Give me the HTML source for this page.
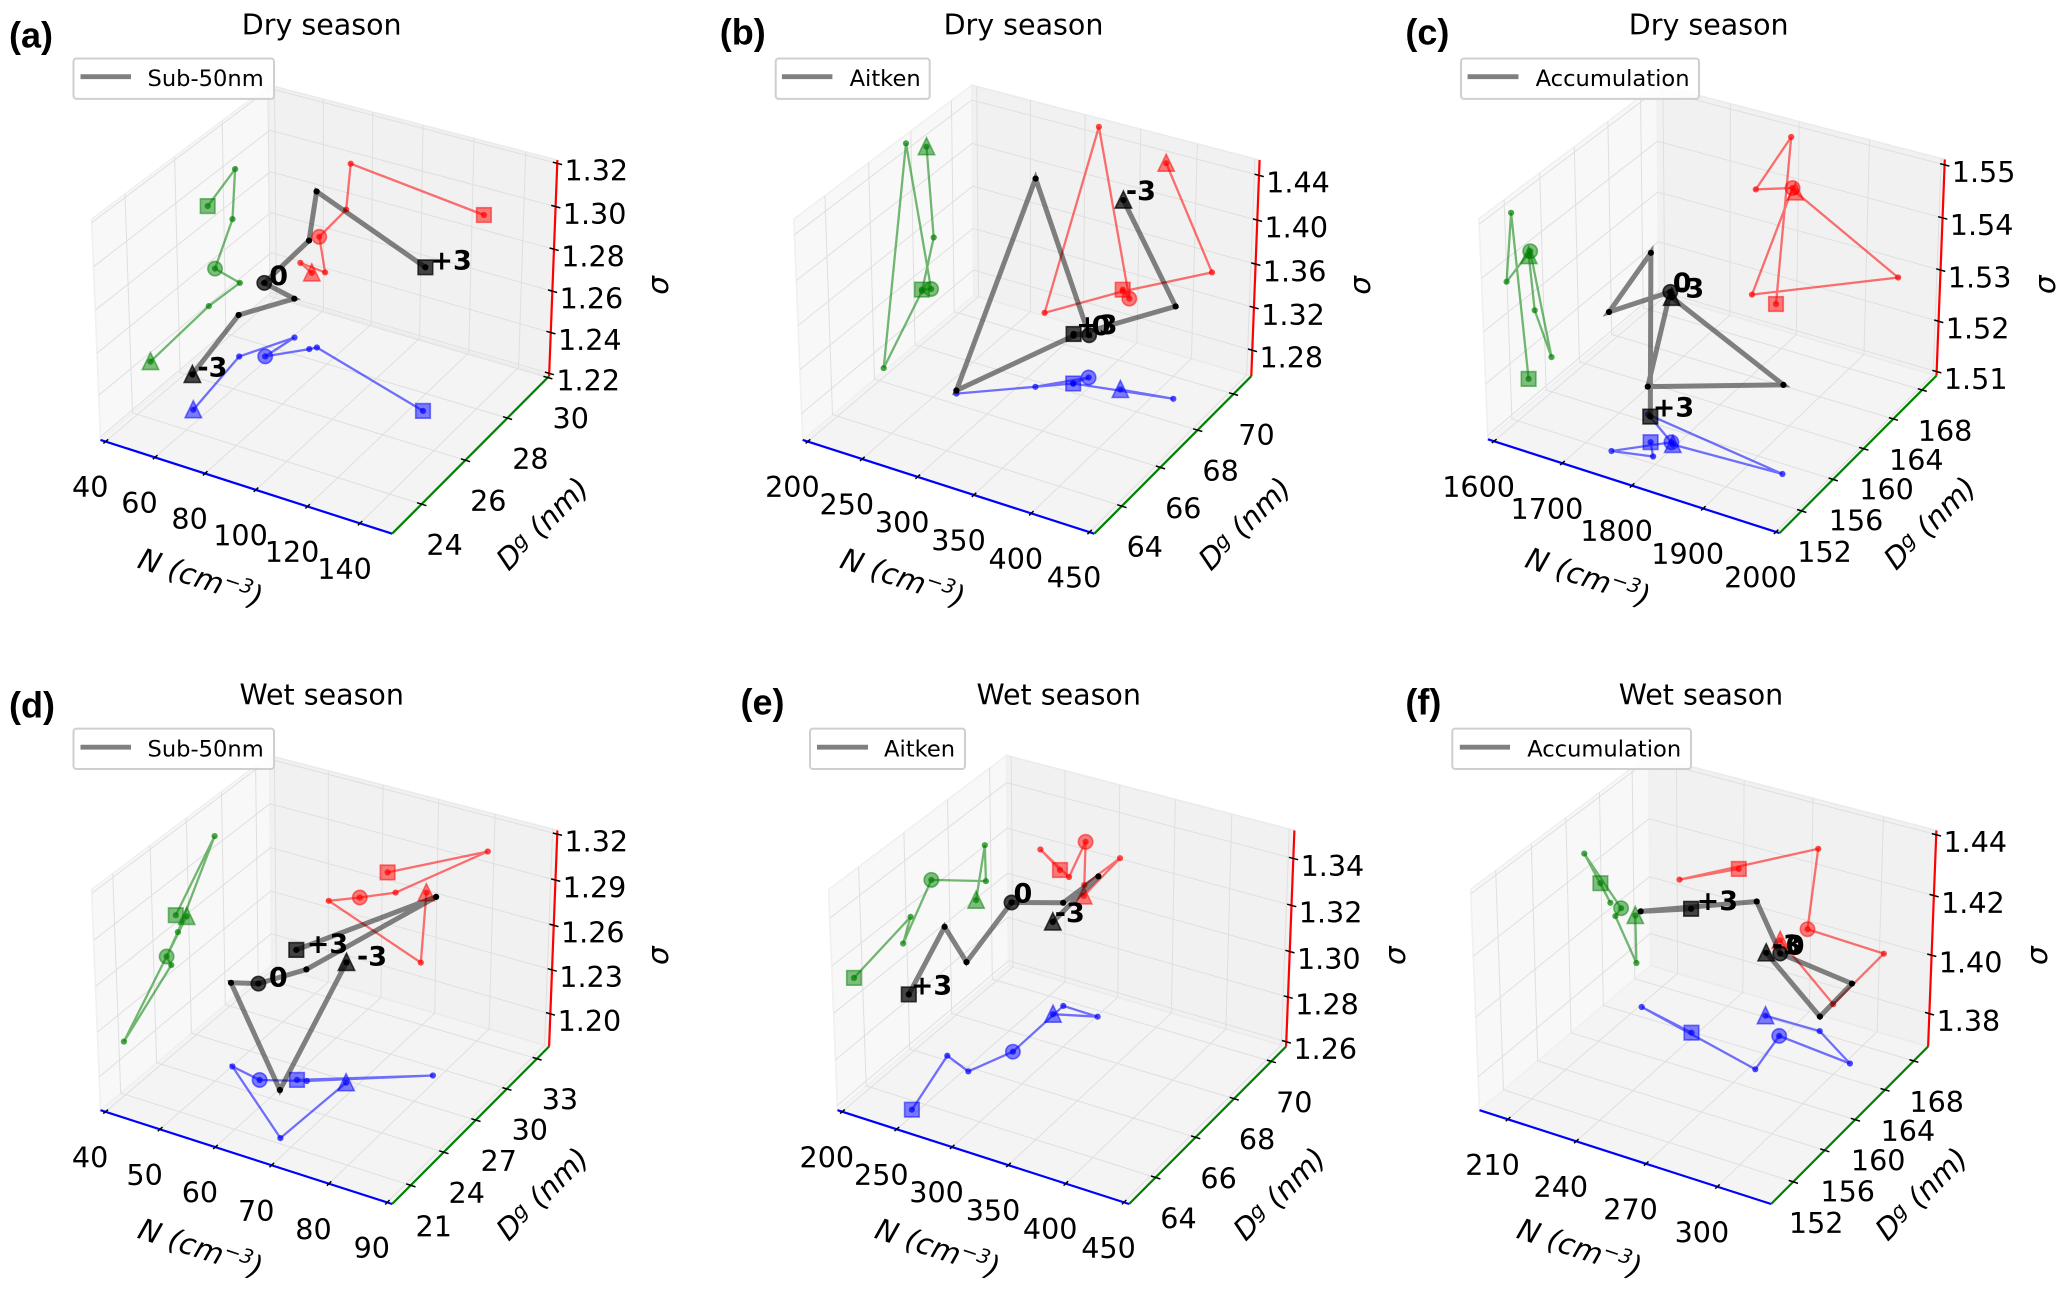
<!DOCTYPE html>
<html lang="en">
<head>
<meta charset="utf-8">
<title>Aerosol mode parameters, dry and wet season</title>
<style>
html,body{margin:0;padding:0;background:#fff;}
svg{display:block;filter:blur(0.35px);}
text{font-family:"DejaVu Sans","Liberation Sans",sans-serif;fill:#000;}
.letter{font-family:"Liberation Sans",sans-serif;font-weight:bold;font-size:36px;}
.title{font-size:28.5px;text-anchor:middle;}
.legend-text{font-size:22.6px;}
.axis-label{font-size:29.5px;font-style:italic;text-anchor:middle;}
.tick-label{font-size:28.6px;text-anchor:middle;}
.note{font-size:27px;font-weight:bold;}
</style>
</head>
<body>
<svg id="figure" xmlns="http://www.w3.org/2000/svg" width="2067" height="1291" viewBox="0 0 2067 1291">
<rect x="0" y="0" width="2067" height="1291" fill="#fff"/>

<g>
  <g id="plot-a"></g>
  <text class="letter" x="9" y="47.6">(a)</text>
  <text class="title" x="321.7" y="34.3">Dry season</text>
  <g>
    <rect x="73.5" y="58.5" width="200.5" height="40.4" rx="3" fill="#fff" fill-opacity="0.85" stroke="#cfcfcf" stroke-width="2"/>
    <line x1="80.5" y1="76.7" x2="131" y2="76.7" stroke="#808080" stroke-width="4.8"/>
    <text class="legend-text" x="147.5" y="86">Sub-50nm</text>
  </g>
  <text class="axis-label" transform="translate(200.3,578.9) rotate(18.3)" y="9">N (cm<tspan font-size="20" dy="-10">−3</tspan><tspan dy="10">)</tspan></text>
  <text class="axis-label" transform="translate(543.3,524.4) rotate(-45)" y="9">D<tspan font-size="21" dy="-7">g</tspan><tspan dy="7"> (nm)</tspan></text>
  <text class="axis-label" transform="translate(658.8,285.4) rotate(-90)" y="9">σ</text>
</g>

<g>
  <g id="plot-b"></g>
  <text class="letter" x="719.8" y="44.4">(b)</text>
  <text class="title" x="1023.5" y="34.3">Dry season</text>
  <g>
    <rect x="775.7" y="58.5" width="154" height="40.4" rx="3" fill="#fff" fill-opacity="0.85" stroke="#cfcfcf" stroke-width="2"/>
    <line x1="781.9" y1="76.7" x2="832.4" y2="76.7" stroke="#808080" stroke-width="4.8"/>
    <text class="legend-text" x="849.6" y="86">Aitken</text>
  </g>
  <text class="axis-label" transform="translate(902.5,578.9) rotate(18.3)" y="9">N (cm<tspan font-size="20" dy="-10">−3</tspan><tspan dy="10">)</tspan></text>
  <text class="axis-label" transform="translate(1245.5,524.4) rotate(-45)" y="9">D<tspan font-size="21" dy="-7">g</tspan><tspan dy="7"> (nm)</tspan></text>
  <text class="axis-label" transform="translate(1361,285.4) rotate(-90)" y="9">σ</text>
</g>

<g>
  <g id="plot-c"></g>
  <text class="letter" x="1405.4" y="44.4">(c)</text>
  <text class="title" x="1708.7" y="34.3">Dry season</text>
  <g>
    <rect x="1461" y="58.5" width="238" height="40.4" rx="3" fill="#fff" fill-opacity="0.85" stroke="#cfcfcf" stroke-width="2"/>
    <line x1="1467.6" y1="76.7" x2="1518.5" y2="76.7" stroke="#808080" stroke-width="4.8"/>
    <text class="legend-text" x="1535.6" y="86">Accumulation</text>
  </g>
  <text class="axis-label" transform="translate(1587.7,578.3) rotate(18.3)" y="9">N (cm<tspan font-size="20" dy="-10">−3</tspan><tspan dy="10">)</tspan></text>
  <text class="axis-label" transform="translate(1930.7,523.8) rotate(-45)" y="9">D<tspan font-size="21" dy="-7">g</tspan><tspan dy="7"> (nm)</tspan></text>
  <text class="axis-label" transform="translate(2046.2,284.8) rotate(-90)" y="9">σ</text>
</g>

<g>
  <g id="plot-d"></g>
  <text class="letter" x="9" y="717.7">(d)</text>
  <text class="title" x="321.7" y="704.4">Wet season</text>
  <g>
    <rect x="73.5" y="728.6" width="200.5" height="40.4" rx="3" fill="#fff" fill-opacity="0.85" stroke="#cfcfcf" stroke-width="2"/>
    <line x1="80.5" y1="747.2" x2="131" y2="747.2" stroke="#808080" stroke-width="4.8"/>
    <text class="legend-text" x="147.5" y="756.5">Sub-50nm</text>
  </g>
  <text class="axis-label" transform="translate(200.3,1249.2) rotate(18.3)" y="9">N (cm<tspan font-size="20" dy="-10">−3</tspan><tspan dy="10">)</tspan></text>
  <text class="axis-label" transform="translate(543.3,1194.7) rotate(-45)" y="9">D<tspan font-size="21" dy="-7">g</tspan><tspan dy="7"> (nm)</tspan></text>
  <text class="axis-label" transform="translate(658.8,955.7) rotate(-90)" y="9">σ</text>
</g>

<g>
  <g id="plot-e"></g>
  <text class="letter" x="740.5" y="714.5">(e)</text>
  <text class="title" x="1058.7" y="704.4">Wet season</text>
  <g>
    <rect x="810" y="728.6" width="155" height="40.4" rx="3" fill="#fff" fill-opacity="0.85" stroke="#cfcfcf" stroke-width="2"/>
    <line x1="817" y1="747.2" x2="868" y2="747.2" stroke="#808080" stroke-width="4.8"/>
    <text class="legend-text" x="884" y="756.5">Aitken</text>
  </g>
  <text class="axis-label" transform="translate(937.3,1249.2) rotate(18.3)" y="9">N (cm<tspan font-size="20" dy="-10">−3</tspan><tspan dy="10">)</tspan></text>
  <text class="axis-label" transform="translate(1280.3,1194.7) rotate(-45)" y="9">D<tspan font-size="21" dy="-7">g</tspan><tspan dy="7"> (nm)</tspan></text>
  <text class="axis-label" transform="translate(1395.8,955.7) rotate(-90)" y="9">σ</text>
</g>

<g>
  <g id="plot-f"></g>
  <text class="letter" x="1405.4" y="714.5">(f)</text>
  <text class="title" x="1701" y="704.4">Wet season</text>
  <g>
    <rect x="1452.3" y="728.6" width="238.7" height="40.4" rx="3" fill="#fff" fill-opacity="0.85" stroke="#cfcfcf" stroke-width="2"/>
    <line x1="1459.8" y1="747.2" x2="1510" y2="747.2" stroke="#808080" stroke-width="4.8"/>
    <text class="legend-text" x="1527.2" y="756.5">Accumulation</text>
  </g>
  <text class="axis-label" transform="translate(1579.3,1249.2) rotate(18.3)" y="9">N (cm<tspan font-size="20" dy="-10">−3</tspan><tspan dy="10">)</tspan></text>
  <text class="axis-label" transform="translate(1922.3,1194.7) rotate(-45)" y="9">D<tspan font-size="21" dy="-7">g</tspan><tspan dy="7"> (nm)</tspan></text>
  <text class="axis-label" transform="translate(2037.8,955.7) rotate(-90)" y="9">σ</text>
</g>
</svg>

<script>
// Panel (a) Dry season, Sub-50nm
const aN = [55.1, 50.3, 60.7, 58.3, 69.4, 71.2, 124.6];
const aDg = [24.79, 27.28, 28.65, 27.58, 28.37, 28.52, 27.32];
const aSigma = [1.2357, 1.2391, 1.2379, 1.2547, 1.2717, 1.2944, 1.2871];
const aTicksN = [40, 60, 80, 100, 120, 140];
const aTicksDg = [24, 26, 28, 30];
const aTicksSigma = [1.22, 1.24, 1.26, 1.28, 1.30, 1.32];

// Panel (b) Dry season, Aitken
const bN = [373.1, 416.1, 336.1, 263.4, 312.5, 342.3, 336.1];
const bDg = [68.74, 69.02, 68.39, 66.45, 67.76, 68.85, 68.39];
const bSigma = [1.4291, 1.3414, 1.3004, 1.2585, 1.4459, 1.2954, 1.3020];
const bTicksN = [200, 250, 300, 350, 400, 450];
const bTicksDg = [64, 66, 68, 70];
const bTicksSigma = [1.28, 1.32, 1.36, 1.40, 1.44];

// Panel (c) Dry season, Accumulation
const cN = [1795.8, 1945.7, 1733.3, 1791.7, 1737.9, 1788.8, 1769.3];
const cDg = [154.5, 154.97, 156.74, 154.68, 151.96, 152.71, 154.04];
const cSigma = [1.5374, 1.5263, 1.5147, 1.5380, 1.5358, 1.5477, 1.5142];
const cTicksN = [1600, 1700, 1800, 1900, 2000];
const cTicksDg = [152, 156, 160, 164, 168];
const cTicksSigma = [1.51, 1.52, 1.53, 1.54, 1.55];

// Panel (d) Wet season, Sub-50nm
const dN = [68.1, 67.3, 50.1, 55.9, 62.5, 78.9, 61.0];
const dDg = [26.84, 21.4, 25.45, 25.08, 26.07, 29.34, 25.93];
const dSigma = [1.2585, 1.2097, 1.2345, 1.2427, 1.2528, 1.2969, 1.2650];
const dTicksN = [40, 50, 60, 70, 80, 90];
const dTicksDg = [21, 24, 27, 30, 33];
const dTicksSigma = [1.20, 1.23, 1.26, 1.29, 1.32];

// Panel (e) Wet season, Aitken
const eN = [267.5, 300.9, 268.1, 269.1, 253.8, 226.9, 245.3];
const eDg = [69.26, 69.72, 69.75, 67.18, 65.83, 66.2, 63.64];
const eSigma = [1.2993, 1.3203, 1.3042, 1.3234, 1.3059, 1.3146, 1.3079];
const eTicksN = [200, 250, 300, 350, 400, 450];
const eTicksDg = [64, 66, 68, 70];
const eTicksSigma = [1.26, 1.28, 1.30, 1.32, 1.34];

// Panel (f) Wet season, Accumulation
const fN = [256.6, 280.5, 301.9, 268.6, 272.6, 211.1, 237.9];
const fDg = [168.17, 168.23, 165.68, 166.4, 162.06, 165.09, 163.91];
const fSigma = [1.3906, 1.3737, 1.396, 1.3971, 1.4252, 1.4019, 1.4112];
const fTicksN = [210, 240, 270, 300];
const fTicksDg = [152, 156, 160, 164, 168];
const fTicksSigma = [1.38, 1.40, 1.42, 1.44];

// Run stage (standard deviations) marked on each path
const noteLabels = ['-3', '0', '+3'];

const panels = [
  {id: 'a', N: aN, Dg: aDg, S: aSigma, tN: aTicksN, tD: aTicksDg, tS: aTicksSigma,
   limN: [37.9, 152.1], limD: [22.7, 30.07], limS: [1.2186, 1.3215],
   cx: 328.3, cy: 300.4, mid: 3, nx: 5, ny: 2},
  {id: 'b', N: bN, Dg: bDg, S: bSigma, tN: bTicksN, tD: bTicksDg, tS: bTicksSigma,
   limN: [195.3, 454.1], limD: [62.62, 71.02], limS: [1.2555, 1.4535],
   cx: 1030.5, cy: 300.4, mid: 5, nx: 2.5, ny: 0},
  {id: 'c', N: cN, Dg: cDg, S: cSigma, tN: cTicksN, tD: cTicksDg, tS: cTicksSigma,
   limN: [1590.9, 2004.9], limD: [149.26, 170.04], limS: [1.5092, 1.5510],
   cx: 1715.7, cy: 299.8, mid: 3, nx: 2.5, ny: 0},
  {id: 'd', N: dN, Dg: dDg, S: dSigma, tN: dTicksN, tD: dTicksDg, tS: dTicksSigma,
   limN: [39.07, 90.83], limD: [19.35, 34.24], limS: [1.1774, 1.3224],
   cx: 328.3, cy: 970.7, mid: 3, nx: 10.5, ny: 3},
  {id: 'e', N: eN, Dg: eDg, S: eSigma, tN: eTicksN, tD: eTicksDg, tS: eTicksSigma,
   limN: [195.6, 454.4], limD: [62.72, 70.82], limS: [1.2579, 1.3518],
   cx: 1065.3, cy: 970.7, mid: 3, nx: 2, ny: 0},
  {id: 'f', N: fN, Dg: fDg, S: fSigma, tN: fTicksN, tD: fTicksDg, tS: fTicksSigma,
   limN: [197.36, 322.2], limD: [149.26, 170.04], limS: [1.3686, 1.4414],
   cx: 1707.3, cy: 970.7, mid: 3, nx: 5.5, ny: 1}
];

const SVGNS = 'http://www.w3.org/2000/svg';
const SCALE_X = 334.5, SCALE_Y = 336;

function make(tag, attrs, parent) {
  const node = document.createElementNS(SVGNS, tag);
  for (const k in attrs) node.setAttribute(k, attrs[k]);
  parent.appendChild(node);
  return node;
}

// Perspective projection: elevation 30, azimuth -60, distance 10, box aspect 1:1:0.75
function project(p, tx, ty, tz) {
  const a = tx - 0.5, b = ty - 0.5, c = 0.75 * (tz - 0.5);
  const xv = 0.8660254 * a + 0.5 * b;
  const yv = -0.25 * a + 0.4330127 * b + 0.8660254 * c;
  const zv = 0.4330127 * a - 0.75 * b + 0.5 * c;
  const f = 10 / (10 - zv);
  return [p.cx + SCALE_X * f * xv, p.cy - SCALE_Y * f * yv];
}
function scale(lim, v) { return (v - lim[0]) / (lim[1] - lim[0]); }
function fmt(pt) { return pt[0].toFixed(1) + ',' + pt[1].toFixed(1); }

function drawPanes(p, g) {
  const floor = [[0,0,0],[1,0,0],[1,1,0],[0,1,0]];
  const wall = [[0,1,0],[1,1,0],[1,1,1],[0,1,1]];
  const side = [[0,0,0],[0,1,0],[0,1,1],[0,0,1]];
  const toPts = c => c.map(q => fmt(project(p, q[0], q[1], q[2]))).join(' ');
  const floorEl = make('polygon', {points: toPts(floor), fill: '#f4f4f4', stroke: '#ececec', 'stroke-width': 1.6}, g);
  
  
  const wallEl = make('polygon', {points: toPts(wall), fill: '#f1f1f1', stroke: '#ebebeb', 'stroke-width': 1.6}, g);
  
  
  const sideEl = make('polygon', {points: toPts(side), fill: '#f8f8f8', stroke: '#f0f0f0', 'stroke-width': 1.6}, g);
  
  
}

function drawGrid(p, g) {
  const style = {fill: 'none', stroke: '#dfdfdf', 'stroke-width': 1};
  p.tN.forEach(v => {
    const t = scale(p.limN, v);
    const line = make('polyline', Object.assign({points: [project(p,t,0,0), project(p,t,1,0), project(p,t,1,1)].map(fmt).join(' ')}, style), g);
    
    
  });
  p.tD.forEach(v => {
    const t = scale(p.limD, v);
    const line = make('polyline', Object.assign({points: [project(p,1,t,0), project(p,0,t,0), project(p,0,t,1)].map(fmt).join(' ')}, style), g);
    
    
  });
  p.tS.forEach(v => {
    const t = scale(p.limS, v);
    const line = make('polyline', Object.assign({points: [project(p,0,0,t), project(p,0,1,t), project(p,1,1,t)].map(fmt).join(' ')}, style), g);
    
    
  });
}

function drawAxes(p, g) {
  const seg = (a, b, color, width) => make('line', {x1: a[0].toFixed(1), y1: a[1].toFixed(1), x2: b[0].toFixed(1), y2: b[1].toFixed(1), stroke: color, 'stroke-width': width}, g);
  const xAxis = seg(project(p,0,0,0), project(p,1,0,0), '#0000ff', 2.2);
  
  
  const yAxis = seg(project(p,1,0,0), project(p,1,1,0), '#008000', 2.2);
  
  
  const zAxis = seg(project(p,1,1,0), project(p,1,1,1), '#ff0000', 2.2);
  
  

  const label = (pos, dx, dy, str) => {
    const t = make('text', {x: (pos[0] + dx).toFixed(1), y: (pos[1] + dy + 10).toFixed(1), class: 'tick-label'}, g);
    t.textContent = str;
    return t;
  };
  p.tN.forEach(v => {
    const t = scale(p.limN, v);
    const tick = seg(project(p,t,0.014,0), project(p,t,-0.012,0), '#000', 1.5);
    
    
    const lab = label(project(p,t,0,0), -15.4, 45.6, String(v));
    
    
  });
  p.tD.forEach(v => {
    const t = scale(p.limD, v);
    const tick = seg(project(p,0.985,t,0), project(p,1.016,t,0), '#000', 1.5);
    
    
    const lab = label(project(p,1,t,0), 23, 41, String(v));
    
    
  });
  p.tS.forEach(v => {
    const t = scale(p.limS, v);
    const tick = seg(project(p,0.985,1,t), project(p,1.016,1,t), '#000', 1.5);
    
    
    const lab = label(project(p,1,1,t), 39, 7.3, v.toFixed(2));
    
    
  });
}

function drawSeries(p, g, name, color, lineWidth, lineColor, lineOpacity, dotOpacity, markOpacity, pos) {
  const pts = p.N.map((_, i) => pos(i));
  const path = make('polyline', {points: pts.map(fmt).join(' '), fill: 'none', stroke: lineColor, 'stroke-width': lineWidth, 'stroke-opacity': lineOpacity, 'stroke-linejoin': 'miter'}, g);
  
  

  const tri = pts[0], circ = pts[p.mid], sq = pts[6];
  const markStyle = {fill: color, 'fill-opacity': markOpacity, stroke: color, 'stroke-opacity': markOpacity, 'stroke-width': 1.6};
  const triEl = make('polygon', Object.assign({points: fmt([tri[0], tri[1] - 9]) + ' ' + fmt([tri[0] - 8.2, tri[1] + 8]) + ' ' + fmt([tri[0] + 8.2, tri[1] + 8])}, markStyle), g);
  
  
  const circEl = make('circle', Object.assign({cx: circ[0].toFixed(1), cy: circ[1].toFixed(1), r: 7.2}, markStyle), g);
  
  
  const sqEl = make('rect', Object.assign({x: (sq[0] - 7.3).toFixed(1), y: (sq[1] - 7.3).toFixed(1), width: 14.6, height: 14.6}, markStyle), g);
  
  

  pts.forEach(pt => {
    const dot = make('circle', {cx: pt[0].toFixed(1), cy: pt[1].toFixed(1), r: 3.1, fill: color, 'fill-opacity': dotOpacity}, g);
    
    
  });
}

panels.forEach(p => {
  const g = document.getElementById('plot-' + p.id);
  drawPanes(p, g);
  drawGrid(p, g);
  drawAxes(p, g);
  const tx = i => scale(p.limN, p.N[i]);
  const ty = i => scale(p.limD, p.Dg[i]);
  const tz = i => scale(p.limS, p.S[i]);
  drawSeries(p, g, 'red-projection', '#ff0000', 2.3, '#ff0000', 0.55, 0.7, 0.5, i => project(p, tx(i), 1, tz(i)));
  drawSeries(p, g, 'green-projection', '#008000', 2.3, '#008000', 0.55, 0.7, 0.5, i => project(p, 0, ty(i), tz(i)));
  drawSeries(p, g, 'blue-projection', '#0000ff', 2.3, '#0000ff', 0.55, 0.7, 0.5, i => project(p, tx(i), ty(i), 0));
  drawSeries(p, g, 'black-path', '#000000', 5, '#000000', 0.48, 1, 0.72, i => project(p, tx(i), ty(i), tz(i)));

  [0, p.mid, 6].forEach((idx, k) => {
    const pos = project(p, tx(idx), ty(idx), tz(idx));
    const note = make('text', {x: (pos[0] + p.nx).toFixed(1), y: (pos[1] + p.ny).toFixed(1), class: 'note'}, g);
    
    
    note.textContent = noteLabels[k];
  });
});
</script>
</body>
</html>
